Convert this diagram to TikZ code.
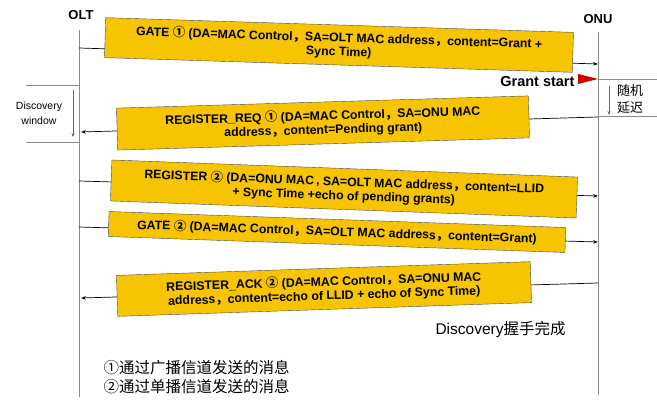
\documentclass[tikz,border=0pt]{standalone}
\usepackage{fontspec}
\setmainfont{Liberation Sans}
\newfontfamily\cjk{Noto Sans CJK SC}
\usetikzlibrary{positioning,arrows.meta}
\newcommand{\cm}{{\cjk ，}}
\newcommand{\one}{{\cjk ①}}
\newcommand{\two}{{\cjk ②}}
\tikzstyle{msg}=[fill={rgb,255:red,246;green,196;blue,0}, draw=black!70, line width=0.4pt, align=center, font=\bfseries\fontsize{12.3}{14}\selectfont, inner sep=1pt]
\tikzstyle{life}=[-, draw=black!45, line width=0.6pt]
\tikzstyle{flow}=[-{Stealth[length=5pt,width=3.5pt]}, draw=black, line width=0.7pt]
\tikzstyle{lbl}=[font=\bfseries\fontsize{13}{15}\selectfont]
\begin{document}
\begin{tikzpicture}[x=1pt,y=-1pt]
    \useasboundingbox (0,0) rectangle (657,406);
    % lifelines
    \node[lbl] (olt) at (81,15) {OLT};
    \node[lbl] (onu) at (598,19) {ONU};
    \coordinate (olttop) at (79,30);
    \coordinate (oltbot) at (79,397);
    \coordinate (onutop) at (598,32);
    \coordinate (onubot) at (598,395);
    \draw[style=life] (olttop) -- (oltbot);
    \draw[style=life] (onutop) -- (onubot);
    % discovery window
    \coordinate (dw1) at (26,85); \coordinate (dw1e) at (79,85);
    \coordinate (dw2) at (26,142); \coordinate (dw2e) at (79,142);
    \draw[style=life] (dw1) -- (dw1e);
    \draw[style=life] (dw2) -- (dw2e);
    \node[font=\fontsize{10.5}{15}\selectfont, align=center] (dwin) at (39,113) {Discovery\\window};
    \coordinate (dwa) at (73,90); \coordinate (dwb) at (73,137);
    \draw[-{Stealth[length=4pt,width=3pt]}, black!60] (dwa) -- (dwb);
    % random delay
    \coordinate (rd1) at (598,79); \coordinate (rd1e) at (657,79);
    \coordinate (rd2) at (598,116); \coordinate (rd2e) at (657,116);
    \draw[style=life] (rd1) -- (rd1e);
    \draw[style=life] (rd2) -- (rd2e);
    \coordinate (rda) at (609,86); \coordinate (rdb) at (609,115);
    \draw[-{Stealth[length=4pt,width=3pt]}, black!60] (rda) -- (rdb);
    \node[font=\cjk\fontsize{13}{17}\selectfont, align=left] (rdly) at (630,99) {随机\\延迟};
    % messages
    \coordinate (m1a) at (79,48);  \coordinate (m1b) at (598,64);
    \coordinate (m2a) at (598,117); \coordinate (m2b) at (81,132);
    \coordinate (m3a) at (79,181); \coordinate (m3b) at (598,196);
    \coordinate (m4a) at (79,227); \coordinate (m4b) at (598,242);
    \coordinate (m5a) at (598,283); \coordinate (m5b) at (81,298);
    \draw[style=flow] (m1a) -- (m1b);
    \draw[style=flow] (m2a) -- (m2b);
    \draw[style=flow] (m3a) -- (m3b);
    \draw[style=flow] (m4a) -- (m4b);
    \draw[style=flow] (m5a) -- (m5b);
    \node[style=msg, rotate=-1.8, minimum width=468, minimum height=40] (gate1) at (339,45)
        {GATE \one{} (DA=MAC Control\cm SA=OLT MAC address\cm content=Grant +\\Sync Time)};
    \node[style=msg, rotate=1.7, minimum width=412, minimum height=42] (req1) at (323,123)
        {REGISTER\_REQ \one{} (DA=MAC Control\cm SA=ONU MAC\\address\cm content=Pending grant)};
    \node[style=msg, rotate=-2.1, minimum width=466, minimum height=41] (reg2) at (344,189)
        {REGISTER \two{} (DA=ONU MAC\,, SA=OLT MAC address\cm content=LLID\\+ Sync Time +echo of pending grants)};
    \node[style=msg, rotate=-2.0, minimum width=457, minimum height=25] (gate2) at (337,232)
        {GATE \two{} (DA=MAC Control\cm SA=OLT MAC address\cm content=Grant)};
    \node[style=msg, rotate=1.9, minimum width=414, minimum height=41] (ack2) at (324,289)
        {REGISTER\_ACK \two{} (DA=MAC Control\cm SA=ONU MAC\\address\cm content=echo of LLID + echo of Sync Time)};
    % grant start
    \fill[red!80!black] (578,74) -- (598,79) -- (578,84) -- cycle;
    \node[lbl, font=\bfseries\fontsize{14.5}{16}\selectfont, anchor=east] (gstart) at (578,82) {Grant start};
    % notes
    \node[font=\fontsize{15.5}{18}\selectfont, anchor=west] (done) at (432,330) {Discovery{\cjk 握手完成}};
    \node[font=\cjk\fontsize{15.5}{19}\selectfont, anchor=west, align=left] (note) at (100,377)
        {①通过广播信道发送的消息\\②通过单播信道发送的消息};
\end{tikzpicture}
\end{document}
